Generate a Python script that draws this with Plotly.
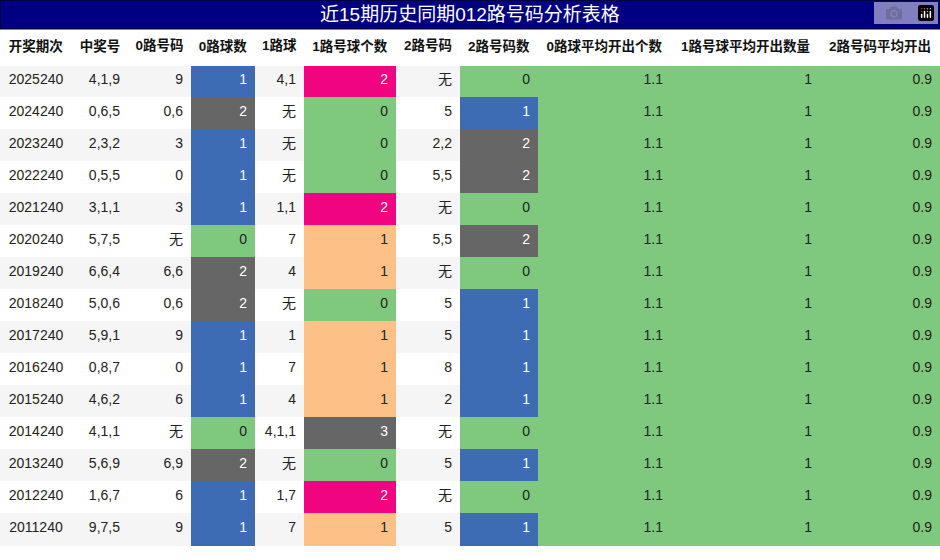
import plotly.graph_objects as go

headers = ["开奖期次","中奖号","0路号码","0路球数","1路球","1路号球个数","2路号码","2路号码数","0路球平均开出个数","1路号球平均开出数量","2路号码平均开出"]
periods = ["2025240","2024240","2023240","2022240","2021240","2020240","2019240","2018240","2017240","2016240","2015240","2014240","2013240","2012240","2011240"]
numbers = ["4,1,9","0,6,5","2,3,2","0,5,5","3,1,1","5,7,5","6,6,4","5,0,6","5,9,1","0,8,7","4,6,2","4,1,1","5,6,9","1,6,7","9,7,5"]
r0_nums = ["9","0,6","3","0","3","无","6,6","0,6","9","0","6","无","6,9","6","9"]
r0_cnt = [1,2,1,1,1,0,2,2,1,1,1,0,2,1,1]
r1_nums = ["4,1","无","无","无","1,1","7","4","无","1","7","4","4,1,1","无","1,7","7"]
r1_cnt = [2,0,0,0,2,1,1,0,1,1,1,3,0,2,1]
r2_nums = ["无","5","2,2","5,5","无","5,5","无","5","5","8","2","无","5","无","5"]
r2_cnt = [0,1,2,2,0,2,0,1,1,1,1,0,1,0,1]
avg0 = ["1.1"]*15
avg1 = ["1"]*15
avg2 = ["0.9"]*15

widths = [72,56,63,64,49,92,64,78,133,149,120]
BLUE, GRAY, PINK, ORANGE, GREEN = "#3d6cb4", "#666666", "#f0047f", "#fdc086", "#7fc97f"
std = {0: GREEN, 1: BLUE, 2: GRAY, 3: GRAY}
r1map = {0: GREEN, 1: ORANGE, 2: PINK, 3: GRAY}
rowbg = ["#f5f5f5" if i % 2 == 0 else "#ffffff" for i in range(15)]
def tc(c): return ["#ffffff" if x in (BLUE, GRAY, PINK) else "#222222" for x in c]

c0 = [std[v] for v in r0_cnt]
c1 = [r1map[v] for v in r1_cnt]
c2 = [std[v] for v in r2_cnt]
g = [GREEN]*15
fills = [rowbg, rowbg, rowbg, c0, rowbg, c1, rowbg, c2, g, g, g]
dark = ["#222222"]*15
fcols = [dark, dark, dark, tc(c0), dark, tc(c1), dark, tc(c2), dark, dark, dark]
FONT = "Liberation Sans, Noto Sans CJK SC"

fig = go.Figure(go.Table(
    columnwidth=widths,
    header=dict(values=[f"<b>{h}</b>" for h in headers], fill_color="#ffffff",
                line_color="#ffffff", align="center", height=35,
                font=dict(family=FONT, size=13.5, color="#111111")),
    cells=dict(values=[periods, numbers, r0_nums, [str(v) for v in r0_cnt], r1_nums,
                       [str(v) for v in r1_cnt], r2_nums, [str(v) for v in r2_cnt], avg0, avg1, avg2],
               fill_color=fills, line_color=fills, height=32,
               align=["center"] + ["right"]*10,
               font=dict(family=FONT, size=14, color=fcols)),
    domain=dict(x=[0, 1], y=[0, 1 - 30/560]),
))
fig.add_shape(type="rect", xref="paper", yref="paper", x0=0, x1=1, y0=1-29/560, y1=1,
              fillcolor="#000080", line=dict(color="#000000", width=1))
fig.add_annotation(text="近15期历史同期012路号码分析表格", xref="paper", yref="paper", x=0.5, y=1-14.5/560,
                   xanchor="center", yanchor="middle",
                   showarrow=False, font=dict(family=FONT, size=19, color="#ffffff"))
fig.update_layout(width=940, height=560, margin=dict(l=0, r=0, t=0, b=0), paper_bgcolor="#ffffff")
fig.write_html("out.html")
with open("out.html", encoding="utf-8") as f:
    html = f.read()
html = html.replace("<body>", '<body style="margin:0;overflow:hidden">', 1)
with open("out.html", "w", encoding="utf-8") as f:
    f.write(html)
